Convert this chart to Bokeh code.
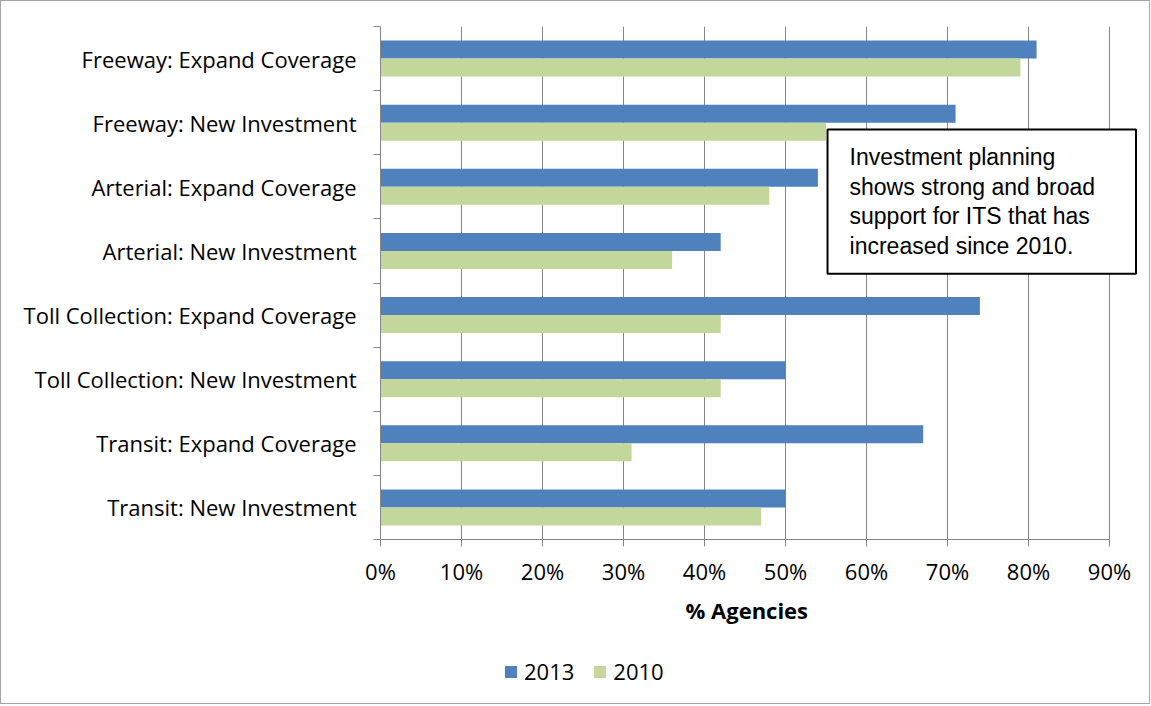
from bokeh.plotting import figure
from bokeh.layouts import column
from bokeh.models import Range1d, FixedTicker, PrintfTickFormatter, Label, Legend, LegendItem, Title
from bokeh.embed import file_html
from bokeh.resources import INLINE

categories = [
    "Freeway: Expand Coverage",
    "Freeway: New Investment",
    "Arterial: Expand Coverage",
    "Arterial: New Investment",
    "Toll Collection: Expand Coverage",
    "Toll Collection: New Investment",
    "Transit: Expand Coverage",
    "Transit: New Investment",
]
pct_2013 = [81, 71, 54, 42, 74, 50, 67, 50]
pct_2010 = [79, 55, 48, 36, 42, 42, 31, 47]
x_ticks = [0, 10, 20, 30, 40, 50, 60, 70, 80, 90]
series_labels = ["2013", "2010"]
x_title = "% Agencies"
note = "Investment planning\nshows strong and broad\nsupport for ITS that has\nincreased since 2010."

BLUE = "#4F81BD"
GREEN = "#C4D79B"
AXIS = "#868686"
FONT = "Open Sans"

n = len(categories)
centers = [n - i - 0.5 for i in range(n)]
bar_h = 0.28
y13 = [c + bar_h / 2 for c in centers]
y10 = [c - bar_h / 2 for c in centers]

# frame extends a little past 90% so the note box can overhang the last gridline
p = figure(width=1148, height=640, x_range=Range1d(0, 93.83), y_range=Range1d(0, n),
           output_backend="svg", toolbar_location=None,
           min_border_left=379, min_border_right=9, min_border_top=25, min_border_bottom=102)

p.hbar(y=y13, left=0, right=pct_2013, height=bar_h, fill_color=BLUE, line_color=None)
p.hbar(y=y10, left=0, right=pct_2010, height=bar_h, fill_color=GREEN, line_color=None)

p.outline_line_color = None
p.ygrid.grid_line_color = None
p.xgrid.grid_line_color = AXIS
p.xgrid.ticker = FixedTicker(ticks=x_ticks)

xa = p.xaxis[0]
xa.ticker = FixedTicker(ticks=x_ticks)
xa.bounds = (x_ticks[0], x_ticks[-1])
xa.formatter = PrintfTickFormatter(format="%d%%")
xa.axis_line_color = AXIS
xa.major_tick_line_color = AXIS
xa.major_tick_out = 7
xa.major_tick_in = 0
xa.minor_tick_line_color = None
xa.major_label_text_font = FONT
xa.major_label_text_font_size = "22px"
xa.major_label_text_color = "black"
xa.major_label_standoff = 9

# axis title, centred under the 0-90% span
p.add_layout(Title(text=x_title, align="left", offset=305, standoff=9,
                   text_font=FONT, text_font_style="bold", text_font_size="22px",
                   text_color="black", border_line_color=None,
                   background_fill_color=None), "below")

ya = p.yaxis[0]
ya.ticker = FixedTicker(ticks=centers, minor_ticks=list(range(n + 1)))
ya.major_label_overrides = {c: cat for c, cat in zip(centers, categories)}
ya.axis_line_color = AXIS
ya.major_tick_line_color = None
ya.major_tick_out = 0
ya.major_tick_in = 0
ya.minor_tick_line_color = AXIS
ya.minor_tick_out = 7
ya.minor_tick_in = 0
ya.major_label_text_font = FONT
ya.major_label_text_font_size = "22px"
ya.major_label_text_color = "black"
ya.major_label_standoff = 17

note_label = Label(x=55.19, y=6.394, x_units="data", y_units="data", anchor="top_left",
                   text=note, text_font="Liberation Sans", text_font_size="23px",
                   text_line_height=1.133, text_color="black",
                   border_line_color="black", border_line_width=2,
                   background_fill_color="white",
                   padding=dict(left=22, right=41, top=15, bottom=15))
p.add_layout(note_label)

# legend strip below the chart (its series renderers are hidden; only the legend shows)
lf = figure(width=1148, height=62, x_range=Range1d(-2, -1), y_range=Range1d(0, 1),
            output_backend="svg", toolbar_location=None, min_border=0)
lf.axis.visible = False
lf.grid.visible = False
lf.outline_line_color = None
g13 = lf.hbar(y=y13, left=0, right=pct_2013, height=bar_h, fill_color=BLUE, line_color=None)
g10 = lf.hbar(y=y10, left=0, right=pct_2010, height=bar_h, fill_color=GREEN, line_color=None)
g13.visible = False
g10.visible = False
legend = Legend(items=[LegendItem(label=series_labels[0], renderers=[g13]),
                       LegendItem(label=series_labels[1], renderers=[g10])],
                orientation="horizontal", location=(123, 17), click_policy="none",
                glyph_width=15, glyph_height=15, label_standoff=6, spacing=18,
                padding=0, margin=0, border_line_color=None, background_fill_alpha=0,
                label_text_font=FONT, label_text_font_size="22px", label_text_color="black")
lf.add_layout(legend)

layout = column(p, lf, styles={"border": "1px solid #a6a6a6"})

open("out.html", "w").write(file_html(layout, INLINE))
